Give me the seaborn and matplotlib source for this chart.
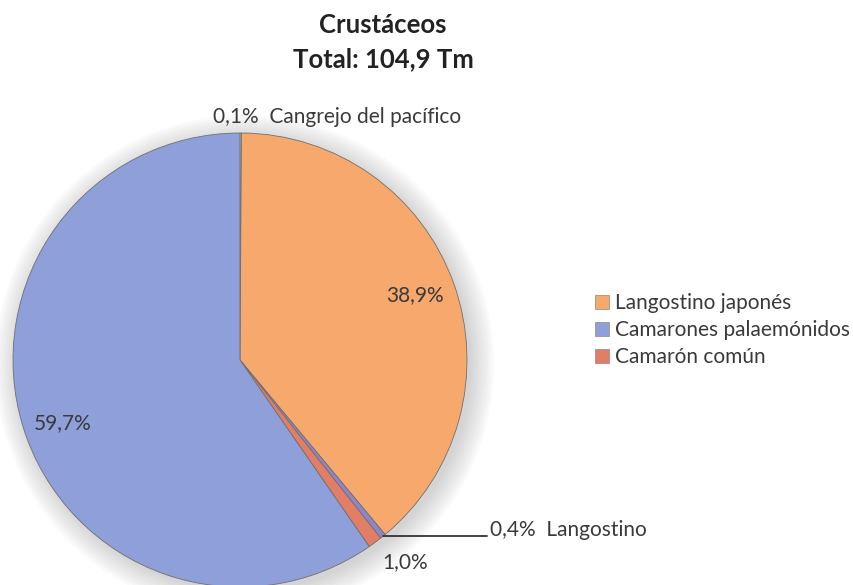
import matplotlib
matplotlib.use("Agg")
import matplotlib.pyplot as plt
import matplotlib.patches as mpatches
import seaborn as sns
import numpy as np

# DATA
# ==========================================================================
categories = ["Cangrejo del pacífico", "Langostino japonés", "Langostino",
              "Camarón común", "Camarones palaemónidos"]
shares = [0.1, 38.9, 0.4, 1.0, 59.7]
pct_labels = ["0,1%", "38,9%", "0,4%", "1,0%", "59,7%"]
legend_names = ["Langostino japonés", "Camarones palaemónidos", "Camarón común"]
colors = ["#f3e07c", "#f6a86d", "#8f86c8", "#e27d66", "#8e9fd9"]
title_lines = ["Crustáceos", "Total: 104,9 Tm"]

sns.set_style("white")
plt.rcParams["font.family"] = ["Lato", "DejaVu Sans"]
txt_color = "#3a3a3a"
fs = 15

W, H = 854, 585
fig = plt.figure(figsize=(W / 100, H / 100), dpi=100)
# pie: centre (240, 360) px, radius 227 px
ax = fig.add_axes([13 / W, -2 / H, 454 / W, 454 / H])

# soft shadow behind the pie
for k in range(10):
    ax.add_patch(mpatches.Circle((0.02, -0.02), 1.0 + 0.011 * k, facecolor="#808080",
                                 edgecolor="none", alpha=0.035, zorder=0, clip_on=False))

wedges, _ = ax.pie(shares, colors=colors, startangle=90, counterclock=False,
                   radius=1, wedgeprops=dict(edgecolor="#707070", linewidth=0.6, zorder=2))
ax.set_xlim(-1, 1)
ax.set_ylim(-1, 1)
ax.set_aspect("equal")
ax.axis("off")

# percentage labels
ax.text(0.77, 0.286, pct_labels[1], fontsize=fs, color=txt_color, ha="center", va="center")
ax.text(-0.78, -0.278, pct_labels[4], fontsize=fs, color=txt_color, ha="center", va="center")
ax.text(0.727, -0.89, pct_labels[3], fontsize=fs, color=txt_color, ha="center", va="center",
        clip_on=False)
ax.text(-0.119, 1.044, pct_labels[0] + "  " + categories[0], fontsize=fs,
        color=txt_color, ha="left", va="baseline", clip_on=False)

# leader line for Langostino
w = wedges[2]
mid = np.deg2rad((w.theta1 + w.theta2) / 2)
x0, y0 = np.cos(mid), np.sin(mid)
ax.plot([x0, 1.088], [y0, y0], color="#333333", lw=1.3, clip_on=False, zorder=3)
ax.text(1.101, y0, pct_labels[2] + "  " + categories[2], fontsize=fs,
        color=txt_color, ha="left", va="baseline", clip_on=False)

# title
fig.text(383 / W, 1 - 25 / H, title_lines[0], fontsize=18.5, fontweight="bold",
         color="#222222", ha="center", va="center")
fig.text(383 / W, 1 - 59 / H, title_lines[1], fontsize=18.5, fontweight="bold",
         color="#222222", ha="center", va="center")

# legend
handles = [mpatches.Patch(facecolor=colors[categories.index(n)], edgecolor="#888888", lw=0.5)
           for n in legend_names]
fig.legend(handles, legend_names, loc="center left", bbox_to_anchor=(595 / W, 1 - 330 / H),
           frameon=False, fontsize=fs, handlelength=0.65, handleheight=0.65,
           handletextpad=0.3, labelspacing=0.34, labelcolor=txt_color,
           borderpad=0, borderaxespad=0)

plt.savefig("out.png", dpi=100)
